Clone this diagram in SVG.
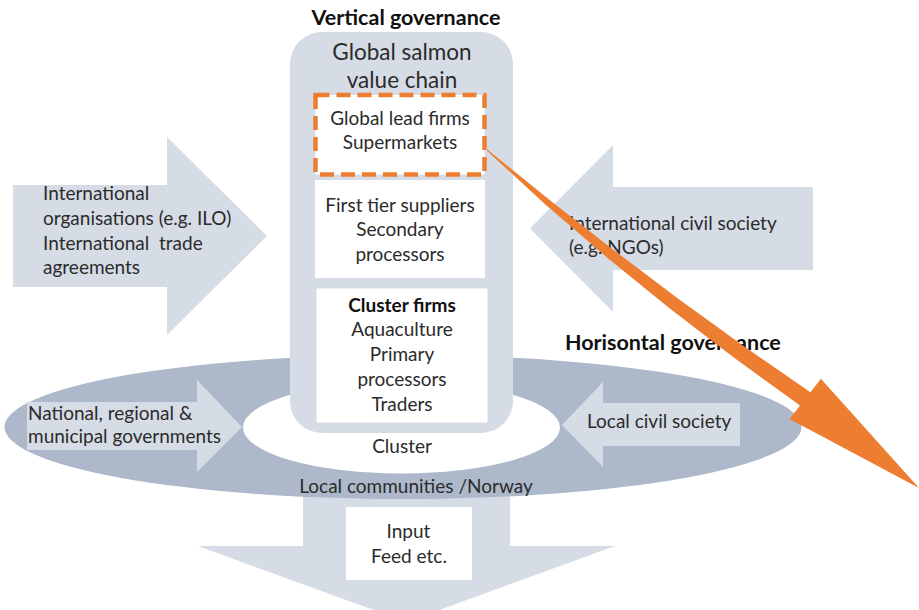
<svg xmlns="http://www.w3.org/2000/svg" width="919" height="610" viewBox="0 0 919 610">
  <style>
    .light { fill: #D6DCE5; }
    .mid { fill: #ADB9CA; }
    .white { fill: #FFFFFF; }
    text { font-family: Lato, "Open Sans", "Liberation Sans", sans-serif; font-size: 19px; fill: #2B2B2B; }
    .c { text-anchor: middle; }
    .b { font-weight: bold; fill: #111111; }
    .title { font-size: 21.5px; }
    .big { font-size: 22.5px; }
  </style>
  <rect width="919" height="610" fill="#FFFFFF"/>

  <g id="input-arrow">
    <polygon class="light" points="303,470 510,470 510,546 615,546 406.5,622 198,546 303,546"/>
  </g>

  <g id="local-communities">
    <ellipse class="mid" cx="403" cy="427" rx="398.5" ry="72"/>
    <text class="c" x="416" y="493">Local communities /Norway</text>
  </g>

  <g id="cluster">
    <ellipse class="white" cx="401.5" cy="427.5" rx="158.5" ry="46"/>
  </g>

  <g id="national-governments">
    <polygon class="light" points="27,402 197,402 197,380 242,427 197,472 197,450 27,450"/>
    <text x="28" y="420">National, regional &amp;</text>
    <text x="28" y="443">municipal governments</text>
  </g>

  <g id="local-civil-society">
    <polygon class="light" points="740,403 603,403 603,382 562,425 603,467 603,446 740,446"/>
    <text x="587" y="428">Local civil society</text>
  </g>

  <g id="international-organisations">
    <polygon class="light" points="13,185 167,185 167,137 267,236 167,335 167,287 13,287"/>
    <text x="43" y="200">International</text>
    <text x="43" y="225">organisations (e.g. ILO)</text>
    <text x="43" y="250" xml:space="preserve">International  trade</text>
    <text x="43" y="274">agreements</text>
  </g>

  <g id="international-civil-society">
    <polygon class="light" points="813,187 613,187 613,145 530,228.5 613,312 613,270 813,270"/>
    <text x="569" y="230">International civil society</text>
    <text x="569" y="254">(e.g. NGOs)</text>
  </g>

  <g id="value-chain">
    <rect class="light" x="290" y="32" width="223" height="401" rx="32" ry="32"/>
    <text class="c big" x="402" y="60">Global salmon</text>
    <text class="c big" x="402" y="87.5">value chain</text>
  </g>

  <g id="lead-firms">
    <rect class="white" x="315.5" y="95" width="169" height="79.5" stroke="#ED7D31" stroke-width="4.5" stroke-dasharray="14 7"/>
    <text class="c" x="400" y="124.5">Global lead firms</text>
    <text class="c" x="400" y="149">Supermarkets</text>
  </g>

  <g id="first-tier">
    <rect class="white" x="315" y="180" width="170" height="98"/>
    <text class="c" x="400" y="211.5">First tier suppliers</text>
    <text class="c" x="400" y="236">Secondary</text>
    <text class="c" x="400" y="260.5">processors</text>
  </g>

  <g id="cluster-firms">
    <rect class="white" x="316.5" y="288.5" width="171" height="134"/>
    <text class="c b" x="402" y="311.5">Cluster firms</text>
    <text class="c" x="402" y="336">Aquaculture</text>
    <text class="c" x="402" y="361">Primary</text>
    <text class="c" x="402" y="386">processors</text>
    <text class="c" x="402" y="411">Traders</text>
  </g>

  <g id="cluster-label">
    <text class="c" x="402" y="452.5">Cluster</text>
  </g>

  <g id="input-box">
    <rect class="white" x="346" y="507" width="126" height="73"/>
    <text class="c" x="408.5" y="538">Input</text>
    <text class="c" x="409" y="563">Feed etc.</text>
  </g>

  <g id="titles">
    <text class="c b title" x="406" y="25">Vertical governance</text>
    <text class="b title" x="565" y="350">Horisontal governance</text>
  </g>

  <g id="connectors">
    <polygon fill="#ED7D31" points="487.3,149.6 550.3,200.4 613.9,250.2 678.3,298.7 743.6,346.1 810.4,392.2 820.9,378.8 919,488 789.5,419 800,405.6 734.8,358.2 670.4,309 607.6,258 546.2,205.3 486.7,150.4"/>
  </g>
</svg>
